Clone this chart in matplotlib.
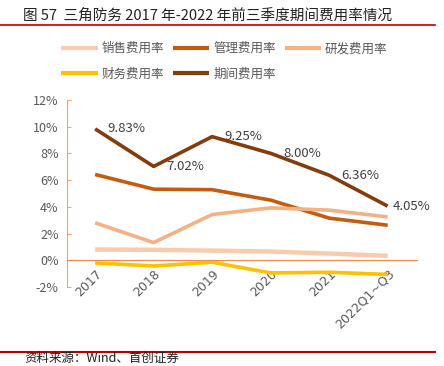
import numpy as np
import matplotlib
matplotlib.use("Agg")
import matplotlib.pyplot as plt
from matplotlib.lines import Line2D

plt.rcParams['font.family'] = ['Noto Sans CJK SC', 'DejaVu Sans']

years = ["2017", "2018", "2019", "2020", "2021", "2022Q1~Q3"]
sales = [0.80, 0.78, 0.72, 0.65, 0.50, 0.33]
admin = [6.42, 5.32, 5.28, 4.50, 3.15, 2.62]
rnd = [2.80, 1.32, 3.42, 3.92, 3.75, 3.24]
finance = [-0.20, -0.43, -0.15, -0.95, -0.90, -1.06]
period = [9.83, 7.02, 9.25, 8.00, 6.36, 4.05]

names = ["销售费用率", "管理费用率", "研发费用率", "财务费用率", "期间费用率"]
colors = ["#F8CBAD", "#C55A11", "#F4B183", "#FFC000", "#843C0C"]
series = [sales, admin, rnd, finance, period]

fig = plt.figure(figsize=(4.44, 3.66), dpi=100)
ax = fig.add_axes([0.151, 0.216, 0.788, 0.511])

x = np.arange(len(years))
handles = []
for name, col, vals in zip(names, colors, series):
    lw = 3.2 if name == "销售费用率" else 2.6
    h, = ax.plot(x, vals, color=col, lw=lw, solid_capstyle="butt", label=name)
    handles.append(h)

# data labels on period expense ratio
for i, v in enumerate(period):
    dx = 4 if i == len(period) - 1 else 9
    ax.annotate(f"{v:.2f}%", (i, v), xytext=(dx, 0), textcoords="offset points",
                ha="left", va="center", fontsize=9.5, color="#404040")

axis_col = "#F4A46A"
ax.set_xlim(-0.48, 5.5)
ax.set_ylim(-2, 12)
ax.set_yticks(range(-2, 13, 2))
ax.set_yticklabels([f"{t}%" for t in range(-2, 13, 2)])
ax.spines["top"].set_visible(False)
ax.spines["right"].set_visible(False)
ax.spines["left"].set_color(axis_col)
ax.spines["bottom"].set_position(("data", 0))
ax.spines["bottom"].set_color("#F08A4B")
ax.tick_params(axis="y", direction="in", length=3, color=axis_col,
               labelsize=9, labelcolor="#595959", pad=6)
ax.set_xticks(x)
ax.set_xticklabels(years, rotation=45, ha="right", va="top",
                   rotation_mode="anchor")
ax.tick_params(axis="x", length=0, labelsize=9, labelcolor="#595959", pad=5)
for lab in ax.get_xticklabels():
    lab.set_family(["DejaVu Sans"])

order = [0, 3, 1, 4, 2]
leg = ax.legend([handles[k] for k in order], [names[k] for k in order], ncol=3,
                loc="upper left", bbox_to_anchor=(0.138, 0.885),
                bbox_transform=fig.transFigure, frameon=False, fontsize=9,
                handlelength=2.9, handletextpad=0.3, columnspacing=0.75,
                labelspacing=1.0, labelcolor="#595959", borderaxespad=0.0,
                borderpad=0.0)
for line in leg.get_lines():
    line.set_linewidth(3)

# title and rules
fig.text(0.052, 0.958, "图 57  三角防务 2017 年-2022 年前三季度期间费用率情况",
         fontsize=10.5, color="#222222", ha="left", va="center")
fig.add_artist(Line2D([0.0, 0.98], [0.932, 0.932], color="#C00000", lw=1.2))
fig.add_artist(Line2D([0.0, 0.98], [0.038, 0.038], color="#C00000", lw=1.5))
fig.text(0.055, 0.004, "资料来源：Wind、首创证券", fontsize=9, style="italic",
         color="#222222", ha="left", va="bottom")

fig.savefig("out.png", dpi=100)
